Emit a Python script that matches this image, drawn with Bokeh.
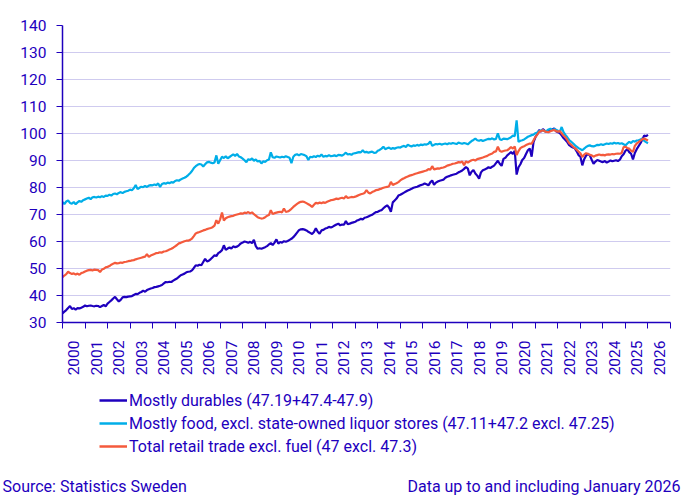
import math
from bokeh.plotting import figure
from bokeh.layouts import column
from bokeh.models import FixedTicker, Legend, LegendItem, Label, Range1d
from bokeh.embed import file_html
from bokeh.resources import INLINE

# ---------------- data (monthly, Jan 2000 - Jan 2026) ----------------
durables = [
    33.4, 34.0, 34.6, 35.4, 36.1, 35.0, 35.3, 34.8, 35.3, 35.2, 35.5, 35.8,  # 2000
    36.3, 36.0, 36.2, 36.3, 36.1, 36.0, 36.2, 36.1, 35.7, 36.1, 36.5, 36.0,  # 2001
    37.0, 37.6, 38.2, 38.9, 39.5, 38.6, 37.8, 38.4, 39.3, 39.5, 39.4, 39.6,  # 2002
    39.7, 39.8, 40.2, 40.6, 40.5, 41.0, 41.3, 41.8, 41.4, 42.0, 42.3, 42.6,  # 2003
    42.8, 43.1, 43.2, 43.4, 43.6, 43.9, 44.5, 45.0, 44.9, 45.1, 45.0, 45.5,  # 2004
    45.9, 46.3, 46.9, 47.5, 47.8, 48.1, 48.6, 48.8, 48.9, 49.3, 50.2, 51.2,  # 2005
    51.0, 51.4, 51.2, 52.4, 53.6, 52.6, 52.9, 53.5, 54.2, 54.9, 54.6, 55.7,  # 2006
    56.1, 56.8, 58.6, 56.9, 57.4, 57.8, 57.4, 58.2, 57.9, 58.1, 58.6, 59.3,  # 2007
    59.6, 60.0, 59.8, 59.5, 59.9, 59.4, 60.6, 58.3, 57.3, 57.5, 57.3, 57.6,  # 2008
    57.9, 58.3, 58.9, 59.4, 58.7, 59.6, 60.8, 59.2, 59.8, 59.6, 60.1, 59.9,  # 2009
    60.2, 60.6, 61.0, 61.6, 62.4, 63.3, 64.2, 64.5, 64.6, 64.4, 64.1, 63.6,  # 2010
    63.2, 62.8, 63.5, 64.9, 63.6, 62.9, 64.1, 64.3, 64.8, 65.0, 65.4, 65.2,  # 2011
    65.5, 65.9, 66.3, 66.6, 66.0, 66.3, 66.2, 67.6, 66.4, 66.6, 66.9, 67.1,  # 2012
    67.3, 67.8, 68.0, 68.4, 68.2, 68.8, 69.0, 69.3, 69.6, 69.9, 70.4, 70.9,  # 2013
    71.0, 71.4, 71.6, 72.3, 72.9, 73.4, 72.6, 71.0, 74.5, 75.2, 75.9, 77.0,  # 2014
    77.3, 77.7, 78.1, 78.5, 78.9, 79.2, 79.5, 79.9, 80.1, 80.3, 80.6, 80.9,  # 2015
    81.1, 81.5, 81.2, 80.8, 81.9, 82.6, 81.0, 81.8, 82.2, 82.5, 82.7, 82.9,  # 2016
    83.6, 84.0, 84.2, 84.5, 84.7, 84.9, 85.1, 85.6, 85.9, 86.3, 86.9, 87.6,  # 2017
    87.0, 84.5, 85.8, 86.5, 85.2, 84.4, 83.3, 85.6, 86.4, 86.7, 87.0, 87.5,  # 2018
    87.2, 87.7, 88.1, 89.0, 89.9, 88.8, 88.0, 90.6, 91.0, 91.9, 92.5, 93.1,  # 2019
    92.4, 93.6, 84.8, 87.5, 88.6, 90.2, 90.9, 92.4, 93.8, 94.4, 91.4, 96.8,  # 2020
    98.6, 99.8, 101.3, 100.7, 101.6, 101.0, 100.5, 100.9, 101.2, 101.5, 101.9, 100.8,  # 2021
    100.5, 100.2, 99.3, 98.3, 97.6, 96.8, 95.7, 95.2, 94.8, 94.5, 93.4, 92.0,  # 2022
    91.4, 88.2, 90.5, 91.8, 92.4, 91.9, 90.3, 88.8, 89.6, 90.2, 89.9, 89.6,  # 2023
    89.4, 89.8, 89.2, 89.6, 90.0, 89.7, 89.9, 90.1, 89.8, 90.3, 91.6, 92.3,  # 2024
    93.6, 94.2, 93.1, 92.5, 90.4, 92.8, 94.2, 95.3, 96.4, 97.8, 99.3, 99.0,  # 2025
    99.5,                                                                    # 2026
]

food = [
    74.6, 73.9, 74.8, 75.2, 74.3, 74.0, 74.6, 73.8, 74.5, 75.0, 74.7, 75.3,  # 2000
    75.6, 75.9, 76.2, 75.7, 76.4, 76.5, 76.3, 76.6, 76.4, 76.8, 76.5, 77.0,  # 2001
    76.9, 77.3, 77.0, 77.6, 77.8, 77.5, 78.0, 78.3, 77.9, 78.4, 78.6, 78.8,  # 2002
    79.2, 79.0, 79.7, 80.9, 79.4, 79.9, 80.3, 80.1, 80.6, 80.2, 80.7, 80.9,  # 2003
    80.8, 81.1, 80.9, 81.5, 80.2, 81.3, 81.6, 81.4, 81.8, 81.6, 82.0, 81.8,  # 2004
    82.4, 82.7, 82.5, 83.0, 83.3, 83.6, 84.0, 84.6, 85.3, 86.1, 87.2, 87.9,  # 2005
    88.4, 88.7, 88.5, 87.8, 88.6, 89.3, 89.5, 89.2, 89.0, 89.3, 91.9, 88.8,  # 2006
    90.1, 91.4, 90.9, 91.6, 90.8, 91.3, 91.8, 92.3, 91.7, 92.4, 91.5, 91.2,  # 2007
    90.7, 90.1, 89.4, 90.5, 90.2, 90.8, 89.9, 90.4, 89.6, 89.9, 88.9, 89.7,  # 2008
    89.5, 90.1, 90.4, 93.0, 91.2, 91.0, 91.5, 91.3, 91.1, 91.4, 91.2, 91.6,  # 2009
    91.3, 91.0, 89.0, 91.4, 92.1, 92.3, 91.9, 92.4, 92.2, 92.0, 91.6, 90.2,  # 2010
    91.4, 91.2, 91.6, 91.3, 91.8, 91.5, 92.2, 91.4, 91.7, 91.5, 92.0, 91.6,  # 2011
    91.7, 91.9, 91.6, 92.1, 92.0, 91.8, 92.3, 92.9, 92.2, 92.4, 92.1, 92.6,  # 2012
    92.7, 92.9, 93.1, 93.0, 93.8, 93.0, 93.2, 92.9, 93.1, 93.3, 92.8, 92.9,  # 2013
    93.6, 93.9, 94.4, 95.1, 94.2, 94.5, 94.8, 94.3, 94.6, 94.4, 94.7, 94.9,  # 2014
    94.8, 95.2, 95.4, 95.0, 95.8, 95.5, 95.2, 95.6, 95.4, 95.8, 95.5, 95.9,  # 2015
    95.7, 96.0, 95.9, 96.2, 97.1, 95.4, 95.8, 96.1, 96.0, 96.2, 95.9, 96.1,  # 2016
    96.3, 96.0, 96.4, 96.2, 96.5, 96.3, 96.1, 96.6, 96.4, 96.2, 96.5, 96.3,  # 2017
    96.0, 96.6, 97.2, 97.6, 98.1, 97.5, 97.3, 97.6, 97.2, 97.5, 97.8, 98.0,  # 2018
    97.9, 98.2, 97.8, 98.0, 100.1, 97.9, 97.6, 98.1, 98.0, 97.9, 98.2, 98.6,  # 2019
    99.2, 99.0, 104.9, 96.9, 97.3, 97.5, 97.8, 98.3, 98.8, 99.1, 99.4, 99.6,  # 2020
    100.1, 100.4, 100.9, 101.1, 101.3, 100.8, 101.0, 101.5, 101.8, 101.2, 101.6, 101.4,  # 2021
    101.0, 100.6, 102.4, 100.5, 99.5, 98.6, 97.6, 97.0, 96.4, 95.7, 95.1, 94.6,  # 2022
    94.2, 93.8, 94.4, 95.0, 95.4, 95.6, 95.3, 95.2, 95.5, 95.8, 95.7, 96.0,  # 2023
    95.7, 96.0, 96.3, 96.1, 96.4, 96.2, 96.6, 96.3, 96.5, 96.2, 96.4, 96.0,  # 2024
    95.6, 96.3, 96.9, 96.5, 97.2, 97.0, 97.4, 97.5, 97.8, 98.1, 97.3, 96.8,  # 2025
    96.4,                                                                    # 2026
]

total = [
    46.8, 47.4, 47.9, 48.8, 48.3, 48.0, 48.2, 47.8, 48.1, 47.7, 48.3, 48.5,  # 2000
    48.9, 49.2, 49.4, 49.5, 49.3, 49.6, 49.5, 49.4, 48.7, 49.6, 49.9, 50.4,  # 2001
    50.6, 50.9, 51.4, 51.8, 52.1, 51.9, 52.0, 52.2, 52.1, 52.4, 52.5, 52.7,  # 2002
    52.8, 53.0, 53.1, 53.4, 53.6, 53.8, 54.0, 54.2, 54.4, 55.3, 54.3, 54.8,  # 2003
    55.1, 55.4, 55.7, 55.8, 56.0, 55.9, 56.3, 56.4, 56.7, 57.0, 57.3, 57.7,  # 2004
    58.2, 58.7, 59.3, 59.5, 59.8, 60.1, 60.3, 60.3, 60.6, 61.1, 62.0, 63.0,  # 2005
    63.3, 63.5, 63.8, 64.1, 64.3, 64.6, 64.8, 65.0, 65.3, 65.9, 67.9, 66.6,  # 2006
    68.2, 70.7, 67.8, 68.6, 69.0, 69.2, 69.4, 69.5, 69.8, 70.0, 70.2, 70.4,  # 2007
    70.3, 70.7, 70.5, 70.9, 70.4, 70.8, 70.1, 69.6, 69.0, 68.7, 68.5, 68.6,  # 2008
    69.0, 69.5, 69.8, 71.6, 70.2, 70.5, 70.7, 70.9, 71.0, 70.8, 72.2, 71.0,  # 2009
    71.1, 71.5, 72.1, 72.8, 73.4, 73.9, 74.4, 74.7, 74.8, 74.6, 74.2, 73.8,  # 2010
    73.4, 72.8, 73.6, 74.3, 74.1, 74.4, 74.2, 74.5, 74.3, 74.7, 75.0, 75.3,  # 2011
    75.4, 75.6, 75.9, 75.7, 76.0, 76.2, 75.9, 76.8, 76.1, 76.3, 76.5, 76.4,  # 2012
    76.6, 76.9, 77.2, 77.5, 77.7, 78.0, 79.0, 78.1, 77.8, 78.3, 78.6, 79.0,  # 2013
    79.1, 79.4, 79.6, 79.9, 80.1, 80.2, 80.5, 82.1, 80.9, 81.3, 81.6, 82.0,  # 2014
    82.6, 83.1, 83.4, 83.8, 84.1, 84.4, 84.6, 84.8, 85.1, 85.3, 85.5, 85.7,  # 2015
    85.9, 86.1, 86.3, 86.8, 86.6, 87.9, 86.7, 86.9, 87.1, 87.0, 87.3, 87.4,  # 2016
    87.7, 88.1, 88.3, 88.5, 88.8, 88.9, 89.1, 89.4, 89.3, 89.6, 88.2, 89.7,  # 2017
    89.2, 89.7, 90.1, 90.3, 90.0, 90.5, 90.7, 90.9, 91.1, 91.4, 91.6, 92.0,  # 2018
    92.3, 92.6, 93.2, 93.4, 95.1, 93.6, 93.2, 93.5, 93.7, 93.8, 94.3, 95.0,  # 2019
    94.4, 95.2, 92.0, 93.5, 94.6, 95.0, 95.3, 95.7, 96.0, 96.3, 96.2, 97.5,  # 2020
    98.7, 99.6, 100.6, 100.9, 101.2, 100.8, 100.6, 100.5, 100.8, 101.1, 101.3, 100.9,  # 2021
    100.7, 100.9, 100.1, 99.2, 98.6, 97.6, 96.4, 95.9, 95.2, 94.6, 94.0, 93.3,  # 2022
    92.7, 91.3, 92.2, 92.7, 92.5, 92.1, 91.9, 91.4, 91.8, 92.0, 92.2, 92.0,  # 2023
    92.1, 91.9, 92.2, 92.3, 92.2, 92.4, 92.3, 92.5, 92.6, 92.5, 92.8, 95.0,  # 2024
    95.1, 94.6, 94.4, 93.6, 93.2, 95.4, 96.3, 96.8, 97.4, 97.9, 98.1, 97.8,  # 2025
    97.4,                                                                    # 2026
]

first_year = 2000
year_labels = [str(y) for y in range(2000, 2027)]
y_ticks = [30, 40, 50, 60, 70, 80, 90, 100, 110, 120, 130, 140]
series_names = [
    "Mostly durables (47.19+47.4-47.9)",
    "Mostly food, excl. state-owned liquor stores (47.11+47.2 excl. 47.25)",
    "Total retail trade excl. fuel (47 excl. 47.3)",
]
source_text = "Source: Statistics Sweden"
note_text = "Data up to and including January 2026"

# ---------------- styling ----------------
AX = "#1e00be"
GRID = "#cfcbef"
COLORS = ["#1e00be", "#00aee8", "#f45a3c"]
FONT = "Roboto"
W = 681

months = [first_year + i / 12.0 for i in range(len(durables))]

# ---------------- main chart ----------------
p = figure(width=W, height=380, output_backend="svg", toolbar_location=None,
           x_range=Range1d(2000, 2027), y_range=Range1d(30, 140),
           min_border_left=62, min_border_right=11, min_border_top=25,
           min_border_bottom=58)
p.frame_align = False
p.outline_line_color = None
p.background_fill_color = "white"
p.border_fill_color = "white"

p.yaxis.ticker = FixedTicker(ticks=y_ticks)
p.yaxis.axis_line_color = AX
p.yaxis.axis_line_width = 1.5
p.yaxis.major_tick_line_color = AX
p.yaxis.major_tick_out = 6
p.yaxis.major_tick_in = 0
p.yaxis.minor_tick_line_color = None
p.yaxis.major_label_text_color = AX
p.yaxis.major_label_text_font = FONT
p.yaxis.major_label_text_font_size = "15.5px"
p.yaxis.major_label_standoff = 10
p.ygrid.ticker = FixedTicker(ticks=y_ticks)
p.ygrid.grid_line_color = GRID
p.ygrid.grid_line_width = 1
p.xgrid.grid_line_color = None

label_pos = [int(s) + 0.5 for s in year_labels]
bounds = [int(s) for s in year_labels] + [int(year_labels[-1]) + 1]
p.xaxis.ticker = FixedTicker(ticks=label_pos, minor_ticks=bounds)
p.xaxis.major_label_overrides = {pos: s for pos, s in zip(label_pos, year_labels)}
p.xaxis.major_tick_line_color = None
p.xaxis.major_tick_out = 0
p.xaxis.major_tick_in = 0
p.xaxis.minor_tick_line_color = AX
p.xaxis.minor_tick_out = 6
p.xaxis.minor_tick_in = 0
p.xaxis.axis_line_color = AX
p.xaxis.axis_line_width = 1.5
p.xaxis.major_label_orientation = math.pi / 2
p.xaxis.major_label_text_color = AX
p.xaxis.major_label_text_font = FONT
p.xaxis.major_label_text_font_size = "15.5px"
p.xaxis.major_label_standoff = 12

for vals, col in zip([durables, food, total], COLORS):
    p.line(months, vals, line_color=col, line_width=2.2)

# ---------------- legend + footer strip ----------------
H2 = 115
q = figure(width=W, height=H2, output_backend="svg", toolbar_location=None,
           x_range=Range1d(0, W), y_range=Range1d(H2, 0),
           min_border_left=0, min_border_right=0, min_border_top=0,
           min_border_bottom=0)
q.frame_align = False
q.outline_line_color = None
q.axis.visible = False
q.grid.visible = False
q.background_fill_color = "white"
q.border_fill_color = "white"

# legend key renderers (kept outside the visible range; only their swatches show)
keys = [q.line(x=[-20, -10], y=[-20, -20], line_color=col, line_width=2.5) for col in COLORS]
legend = Legend(items=[LegendItem(label=n, renderers=[r]) for n, r in zip(series_names, keys)],
                location=(99, 39), orientation="vertical",
                glyph_width=28, glyph_height=20, label_height=20, spacing=3,
                label_standoff=2, padding=0, margin=0,
                border_line_color=None, background_fill_alpha=0,
                label_text_font=FONT, label_text_font_size="16px",
                label_text_color=AX)
q.add_layout(legend, "center")

q.add_layout(Label(x=2, y=106, text=source_text, text_font=FONT, text_font_size="16px",
                   text_color=AX, text_align="left", text_baseline="middle"))
q.add_layout(Label(x=W - 1, y=106, text=note_text, text_font=FONT, text_font_size="16px",
                   text_color=AX, text_align="right", text_baseline="middle"))

layout = column(p, q, spacing=0)
open("out.html", "w").write(file_html(layout, INLINE))
